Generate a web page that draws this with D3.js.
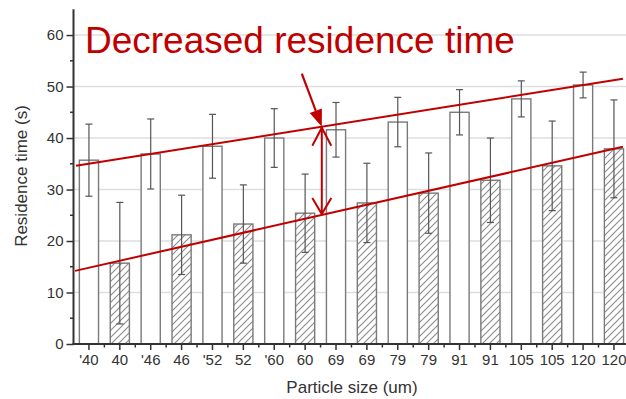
<!DOCTYPE html>
<html>
<head>
<meta charset="utf-8">
<script src="https://cdn.jsdelivr.net/npm/d3@7"></script>
<style>
  html, body { margin: 0; padding: 0; background: #fff; }
  svg { display: block; font-family: "Liberation Sans", Arial, sans-serif; }
</style>
</head>
<body>
<svg id="chart" width="626" height="399"></svg>
<script>
// ---- data ----
const tickLabels = ["'40","40","'46","46","'52","52","'60","60","69","69","79","79","91","91","105","105","120","120"];
const openValues = [35.7, 36.9, 38.4, 40.0, 41.6, 43.1, 45.0, 47.6, 50.3];
const openErrors = [7.0, 6.8, 6.2, 5.7, 5.3, 4.8, 4.4, 3.5, 2.5];
const hatchValues = [15.7, 21.2, 23.3, 25.4, 27.4, 29.3, 31.8, 34.6, 37.9];
const hatchErrors = [11.8, 7.7, 7.6, 7.6, 7.7, 7.8, 8.2, 8.7, 9.5];
const yTicks = [0, 10, 20, 30, 40, 50, 60];
// trend lines: [band position, value]
const upperTrend = [[0.08, 34.6], [17.79, 51.5]];
const lowerTrend = [[0.05, 14.2], [17.79, 38.3]];
const arrowBandPos = 8.04;
const title = "Decreased residence time";

// ---- layout ----
const svg = d3.select("#chart");
const x0 = 73.5, xEnd = 629.4, yBottom = 344, yTop = 9.3;
const red = "#c00000";

const x = d3.scaleBand().domain(d3.range(tickLabels.length)).range([x0, xEnd]).padding(0);
const step = x.step();
const bw = step * 0.62;
const xPos = p => x0 + p * step;
const y = d3.scaleLinear().domain([0, 65]).range([yBottom, yTop]);

const defs = svg.append("defs");
const pat = defs.append("pattern").attr("id", "hatch").attr("patternUnits", "userSpaceOnUse")
  .attr("width", 7).attr("height", 7);
pat.append("rect").attr("width", 7).attr("height", 7).attr("fill", "#fff");
pat.append("path").attr("d", "M-1,1 l2,-2 M0,7 l7,-7 M6,8 l2,-2")
  .attr("stroke", "#8a8a8a").attr("stroke-width", 1.1);

// gridlines
svg.append("g").selectAll("line").data(yTicks.filter(d => d > 0)).join("line")
  .attr("x1", x0).attr("x2", 626).attr("y1", d => y(d)).attr("y2", d => y(d))
  .attr("stroke", "#dedede").attr("stroke-width", 1.5);

// bars
const rows = [];
openValues.forEach((v, i) => rows.push({ idx: 2 * i, v, e: openErrors[i], hatch: false }));
hatchValues.forEach((v, i) => rows.push({ idx: 2 * i + 1, v, e: hatchErrors[i], hatch: true }));

svg.append("g").selectAll("rect").data(rows).join("rect")
  .attr("x", d => x(d.idx) + (step - bw) / 2)
  .attr("y", d => y(d.v))
  .attr("width", bw)
  .attr("height", d => y(0) - y(d.v))
  .attr("fill", d => d.hatch ? "url(#hatch)" : "#fff")
  .attr("stroke", "#7a7a7a").attr("stroke-width", 1.4);

// error bars
const eb = svg.append("g").attr("stroke", "#555").attr("stroke-width", 1.2);
rows.forEach(d => {
  const cx = x(d.idx) + step / 2;
  eb.append("line").attr("x1", cx).attr("x2", cx).attr("y1", y(d.v + d.e)).attr("y2", y(d.v - d.e));
  [d.v + d.e, d.v - d.e].forEach(val => {
    eb.append("line").attr("x1", cx - 3.5).attr("x2", cx + 3.5).attr("y1", y(val)).attr("y2", y(val));
  });
});

// y axis
const ya = svg.append("g").attr("transform", `translate(${x0},0)`);
ya.call(d3.axisLeft(y).tickValues(yTicks).tickSize(7).tickPadding(3).tickFormat(d3.format("d")));
ya.select(".domain").remove();
ya.selectAll(".tick line").attr("stroke", "#333").attr("stroke-width", 1.5);
ya.selectAll(".tick text").attr("fill", "#333").style("font-size", "15px");
ya.selectAll(".minor").data(d3.range(5, 65, 10)).join("line").attr("class", "minor")
  .attr("x1", -3.5).attr("x2", 0).attr("y1", d => y(d)).attr("y2", d => y(d))
  .attr("stroke", "#333").attr("stroke-width", 1.5);
ya.append("line").attr("x1", 0).attr("x2", 0).attr("y1", y(0) + 1).attr("y2", y(65))
  .attr("stroke", "#333").attr("stroke-width", 2);

// x axis
const xa = svg.append("g").attr("transform", `translate(0,${yBottom})`);
xa.call(d3.axisBottom(x).tickSize(6).tickPadding(4).tickFormat(i => tickLabels[i]));
xa.select(".domain").remove();
xa.selectAll(".tick line").attr("stroke", "#333").attr("stroke-width", 1.5);
xa.selectAll(".tick text").attr("fill", "#333").style("font-size", "15px");
xa.selectAll(".minor").data(d3.range(1, tickLabels.length)).join("line").attr("class", "minor")
  .attr("x1", d => xPos(d)).attr("x2", d => xPos(d)).attr("y1", 0).attr("y2", 3.5)
  .attr("stroke", "#333").attr("stroke-width", 1.5);
xa.append("line").attr("x1", x0 - 1).attr("x2", 626).attr("y1", 0).attr("y2", 0)
  .attr("stroke", "#333").attr("stroke-width", 2);

// axis titles
svg.append("text").attr("x", 352).attr("y", 393).attr("text-anchor", "middle")
  .attr("fill", "#333").style("font-size", "17px").text("Particle size (um)");
svg.append("text").attr("transform", "translate(27,176) rotate(-90)").attr("text-anchor", "middle")
  .attr("fill", "#333").style("font-size", "17px").text("Residence time (s)");

// trend lines
[upperTrend, lowerTrend].forEach(t => {
  svg.append("line")
    .attr("x1", xPos(t[0][0])).attr("y1", y(t[0][1]))
    .attr("x2", xPos(t[1][0])).attr("y2", y(t[1][1]))
    .attr("stroke", red).attr("stroke-width", 2);
});

// arrows
const lineVal = (t, p) => t[0][1] + (t[1][1] - t[0][1]) * (p - t[0][0]) / (t[1][0] - t[0][0]);
const ax = xPos(arrowBandPos);
const yUp = y(lineVal(upperTrend, arrowBandPos));
const yLo = y(lineVal(lowerTrend, arrowBandPos));
svg.append("line").attr("x1", ax).attr("x2", ax).attr("y1", yUp + 1).attr("y2", yLo - 1)
  .attr("stroke", red).attr("stroke-width", 2);
svg.append("path").attr("d", `M${ax - 9.5},${yUp + 19} L${ax},${yUp + 1} L${ax + 9.5},${yUp + 19}`)
  .attr("fill", "none").attr("stroke", red).attr("stroke-width", 2);
svg.append("path").attr("d", `M${ax - 9.5},${yLo - 17} L${ax},${yLo - 1} L${ax + 9.5},${yLo - 17}`)
  .attr("fill", "none").attr("stroke", red).attr("stroke-width", 2);
// diagonal arrow
const sx = ax - 20, sy = yUp - 53;
const ang = Math.atan2(yUp - sy, ax - sx);
const hl = 17, hw = 6.5;
const bx = ax - hl * Math.cos(ang), by = yUp - hl * Math.sin(ang);
svg.append("line").attr("x1", sx).attr("y1", sy).attr("x2", bx).attr("y2", by)
  .attr("stroke", red).attr("stroke-width", 2.2);
svg.append("path").attr("d",
  `M${ax},${yUp} L${bx + hw * Math.sin(ang)},${by - hw * Math.cos(ang)} L${bx - hw * Math.sin(ang)},${by + hw * Math.cos(ang)} Z`)
  .attr("fill", red);

// title annotation
svg.append("text").attr("x", 85).attr("y", 53).attr("fill", red)
  .style("font-size", "37px").text(title);
</script>
</body>
</html>
